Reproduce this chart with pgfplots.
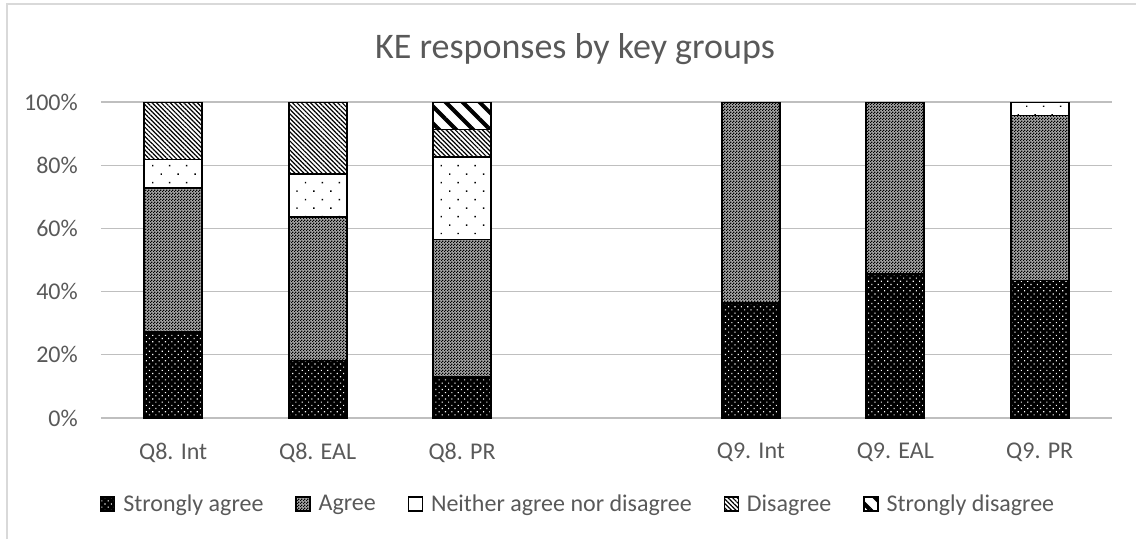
\documentclass[border=0pt]{standalone}
\usepackage{pgfplots}
\pgfplotsset{compat=1.18}
\usepackage{fontspec}
\setmainfont{Carlito}
\usetikzlibrary{patterns,patterns.meta}
\definecolor{txt}{RGB}{89,89,89}
\definecolor{grid}{RGB}{217,217,217}
\pgfdeclarepatternformonly{checker}{\pgfpointorigin}{\pgfpoint{3pt}{3pt}}{\pgfpoint{3pt}{3pt}}{%
  \pgfpathrectangle{\pgfpointorigin}{\pgfpoint{1.5pt}{1.5pt}}%
  \pgfpathrectangle{\pgfpoint{1.5pt}{1.5pt}}{\pgfpoint{1.5pt}{1.5pt}}%
  \pgfusepath{fill}}
\pgfplotsset{mylegend/.style={legend image code/.code={\draw[##1, line width=1.2pt] (0pt,-7pt) rectangle (14pt,7pt);}}}
\begin{document}
\begin{tikzpicture}[x=1pt,y=1pt]
\useasboundingbox (0,0) rectangle (1136,-539);
\draw[grid, line width=1.2pt] (7,-539) -- (7,-4) -- (1136,-4);
\node[txt, font=\fontsize{36}{40}\selectfont, anchor=base] at (575,-58) {KE responses by key groups};
\begin{axis}[
  at={(101pt,-418pt)}, anchor=south west,
  scale only axis, width=1011pt, height=316pt,
  ybar stacked, bar width=58pt,
  xmin=-0.5, xmax=6.5, ymin=0, ymax=100,
  xtick={0,1,2,4,5,6},
  xticklabels={Q8. Int,Q8. EAL,Q8. PR,Q9. Int,Q9. EAL,Q9. PR},
  ytick={0,20,40,60,80,100},
  yticklabel={\pgfmathprintnumber{\tick}\%},
  ymajorgrids, grid style={grid, line width=1.2pt},
  axis line style={draw=none},
  major tick length=0pt,
  tick label style={txt, font=\fontsize{24}{28}\selectfont, inner sep=0pt},
  yticklabel style={xshift=-23pt},
  xticklabel style={yshift=-25pt},
  /pgf/number format/assume math mode=true,
  legend columns=5,
  legend style={at={(0.472,-0.272)}, anchor=center, draw=none, fill=none,
    font=\fontsize{24}{28}\selectfont, text=txt, inner sep=0pt,
    /tikz/every odd column/.append style={column sep=6pt},
    /tikz/every even column/.append style={column sep=30pt}},
  legend cell align=left,
]
\addplot[draw=black, line width=1.8pt, fill=black,
  postaction={pattern={Dots[angle=45,distance=4.5pt,radius=0.8pt]}, pattern color=white}, mylegend]
  coordinates {(0,27.3) (1,18.2) (2,13.0) (4,36.4) (5,45.5) (6,43.5)};
\addplot[draw=black, line width=1.8pt, fill=black!35,
  postaction={pattern=checker, pattern color=black}, mylegend]
  coordinates {(0,45.4) (1,45.4) (2,43.5) (4,63.6) (5,54.5) (6,52.2)};
\addplot[draw=black, line width=1.8pt, fill=white,
  postaction={pattern={Dots[angle=45,distance=12pt,radius=1pt]}, pattern color=black}, mylegend]
  coordinates {(0,9.1) (1,13.7) (2,26.1) (4,0) (5,0) (6,4.3)};
\addplot[draw=black, line width=1.8pt, fill=white,
  postaction={pattern={Lines[angle=-45,distance=3.2pt,line width=1.2pt]}, pattern color=black}, mylegend]
  coordinates {(0,18.2) (1,22.7) (2,8.7) (4,0) (5,0) (6,0)};
\addplot[draw=black, line width=1.8pt, fill=white,
  postaction={pattern={Lines[angle=-45,distance=12pt,line width=4pt]}, pattern color=black}, mylegend]
  coordinates {(0,0) (1,0) (2,8.7) (4,0) (5,0) (6,0)};
\legend{Strongly agree,Agree,Neither agree nor disagree,Disagree,Strongly disagree}
\end{axis}
\end{tikzpicture}
\end{document}
